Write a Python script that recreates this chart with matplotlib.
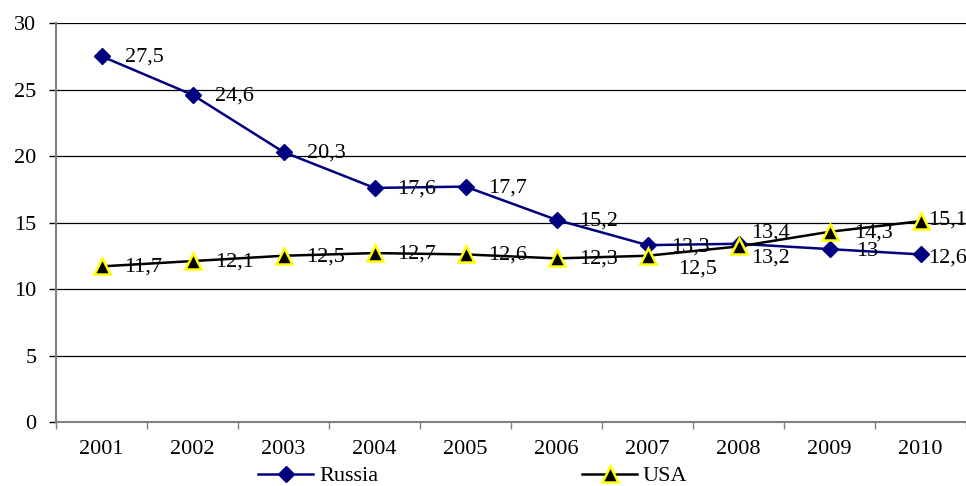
import matplotlib
matplotlib.use("Agg")
import matplotlib.pyplot as plt
from matplotlib.ticker import FixedLocator, NullFormatter

plt.rcParams['font.family'] = ['Liberation Serif', 'DejaVu Serif']

years = ['2001', '2002', '2003', '2004', '2005', '2006', '2007', '2008', '2009', '2010']
russia = [27.5, 24.6, 20.3, 17.6, 17.7, 15.2, 13.3, 13.4, 13, 12.6]
usa = [11.7, 12.1, 12.5, 12.7, 12.6, 12.3, 12.5, 13.2, 14.3, 15.1]
y_ticks = [0, 5, 10, 15, 20, 25, 30]

DPI = 100
FS = 16

fig = plt.figure(figsize=(9.66, 4.86), dpi=DPI)
ax = fig.add_axes([56 / 966, 64 / 486, 910 / 966, 399 / 486])

x = list(range(1, len(years) + 1))

ax.plot(x, russia, color='#000080', lw=1.8, marker='D', ms=8.5,
        mfc='#000080', mec='#000080', label='Russia', zorder=3, clip_on=False)
ax.plot(x, usa, color='black', lw=1.8, marker='^', ms=11,
        mfc='black', mec='#ffff00', mew=1.8, label='USA', zorder=4, clip_on=False)

ax.set_xlim(0.5, len(years) + 0.5)
ax.set_ylim(0, 30)

# category ticks sit on the boundaries, labels at the centres
ax.xaxis.set_major_locator(FixedLocator([i + 0.5 for i in range(0, len(years) + 1)]))
ax.xaxis.set_major_formatter(NullFormatter())
ax.xaxis.set_minor_locator(FixedLocator(x))
ax.set_xticklabels(years, minor=True)
ax.tick_params(axis='x', which='major', length=5, width=1, color='#808080', direction='out')
ax.tick_params(axis='x', which='minor', length=0, pad=13, labelsize=FS)

ax.set_yticks(y_ticks)
ax.tick_params(axis='y', length=5, width=1, color='black', direction='out', pad=9, labelsize=FS)

for v in y_ticks[1:]:
    ax.axhline(v, color='black', lw=0.9, zorder=1)

for s in ['top', 'right']:
    ax.spines[s].set_visible(False)
for s in ['left', 'bottom']:
    ax.spines[s].set_color('#808080')
    ax.spines[s].set_linewidth(1.5)


def fmt(v):
    return f"{v:g}".replace('.', ',')


# label placement relative to each marker, in pixels (right, down)
default_off = (23, 1)
russia_off = {6: (24, 2), 7: (13, -11), 8: (27, 2), 9: (8, 4)}
usa_off = {6: (31, 13), 7: (13, 12), 8: (25, 1), 9: (8, -1)}

for series, offs in ((russia, russia_off), (usa, usa_off)):
    for i, v in enumerate(series):
        dx, dy = offs.get(i, default_off)
        ax.annotate(fmt(v), (x[i], v), xytext=(dx * 72 / DPI, -dy * 72 / DPI),
                    textcoords='offset points', ha='left', va='center',
                    fontsize=FS, color='black', annotation_clip=False, zorder=5)

fig.legend(loc='center', bbox_to_anchor=(473 / 966, 1 - 476 / 486), ncol=2,
           frameon=False, fontsize=FS, handlelength=2.45, handletextpad=0.27,
           columnspacing=9.2, borderpad=0, borderaxespad=0)

fig.savefig('out.png', dpi=DPI)
